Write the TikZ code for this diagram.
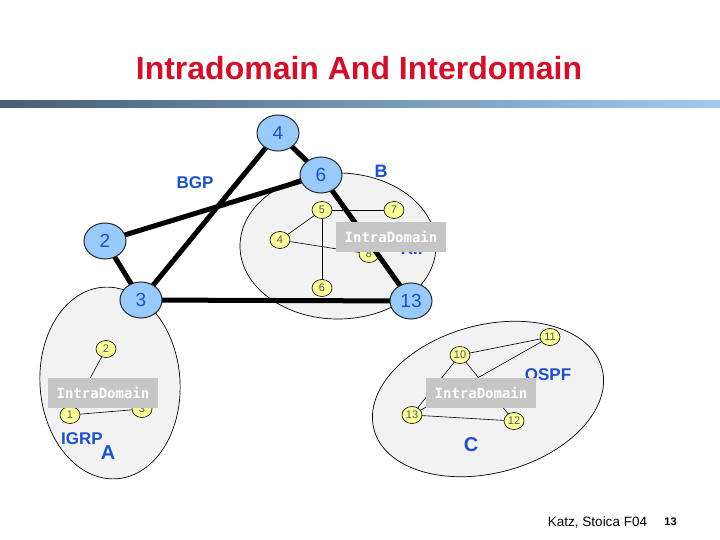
\documentclass[tikz,border=0pt]{standalone}
\usepackage{fontspec}
\setmainfont{Liberation Sans}
\newfontfamily\boxfont{DejaVu Sans Mono}
\usetikzlibrary{shapes.geometric}
\definecolor{titlered}{RGB}{208,17,43}
\definecolor{barL}{RGB}{72,94,116}
\definecolor{barR}{RGB}{160,203,245}
\definecolor{bigfill}{RGB}{153,202,252}
\definecolor{blueText}{RGB}{30,80,200}
\definecolor{smallfill}{RGB}{255,255,153}
\definecolor{smalltext}{RGB}{80,88,110}
\definecolor{domfill}{RGB}{242,242,242}
\definecolor{boxgray}{RGB}{198,198,198}
\tikzset{
  domstyle/.style={ellipse, draw=black, line width=0.7pt, fill=domfill, inner sep=0pt},
  bignode/.style={ellipse, draw=black!85, line width=1pt, fill=bigfill, minimum width=42pt, minimum height=36pt, inner sep=0pt, text=blueText, font=\fontsize{19}{19}\selectfont},
  smallnode/.style={ellipse, draw=black, line width=0.6pt, fill=smallfill, minimum width=20pt, minimum height=17pt, inner sep=0pt, text=smalltext, font=\fontsize{11}{11}\selectfont},
  thinedge/.style={draw=black, line width=0.6pt},
  thickedge/.style={draw=black, line width=5pt},
  lbl/.style={inner sep=0pt, text=blueText, font=\bfseries\fontsize{17}{17}\selectfont},
  ibox/.style={fill=boxgray, text=white, minimum width=110pt, minimum height=30pt, inner sep=0pt, font=\boxfont\bfseries\fontsize{14}{14}\selectfont}
}
\begin{document}
\begin{tikzpicture}[x=1pt,y=-1pt]
\useasboundingbox (0,0) rectangle (720,540);
\fill[white] (0,0) rectangle (720,540);
% title and bar
\node[inner sep=0pt, text=titlered, font=\bfseries\fontsize{32}{32}\selectfont] (title) at (359,68) {Intradomain And Interdomain};
\shade[left color=barL, right color=barR] (0,101) rectangle (720,107.5);
% domains
\node[domstyle, minimum width=196pt, minimum height=146pt] (domB) at (338,246) {};
\node[domstyle, minimum width=140pt, minimum height=192pt, rotate=4] (domA) at (110,383) {};
\node[domstyle, minimum width=236pt, minimum height=148pt, rotate=15] (domC) at (488,399) {};
% small node positions
\coordinate (q5) at (322,210);
\coordinate (q7) at (394,210);
\coordinate (q4) at (280,240);
\coordinate (q8) at (369,254);
\coordinate (q6) at (322,288);
\coordinate (r2) at (106,349);
\coordinate (r1) at (70,415);
\coordinate (r3) at (142,409);
\coordinate (s10) at (460,355);
\coordinate (s11) at (550,337);
\coordinate (s13) at (412,415);
\coordinate (s12) at (514,421);
% thin edges
\draw[thinedge] (q5) -- (q7);
\draw[thinedge] (q5) -- (q4);
\draw[thinedge] (q5) -- (q6);
\draw[thinedge] (q4) -- (q8);
\draw[thinedge] (r2) -- (r1);
\draw[thinedge] (r1) -- (r3);
\draw[thinedge] (s10) -- (s11);
\draw[thinedge] (s11) -- (s13);
\draw[thinedge] (s10) -- (s13);
\draw[thinedge] (s10) -- (s12);
\draw[thinedge] (s13) -- (s12);
% small nodes
\node[smallnode] (b5) at (q5) {5};
\node[smallnode] (b7) at (q7) {7};
\node[smallnode] (b4) at (q4) {4};
\node[smallnode] (b8) at (q8) {8};
\node[smallnode] (b6) at (q6) {6};
\node[smallnode] (a2) at (r2) {2};
\node[smallnode] (a1) at (r1) {1};
\node[smallnode] (a3) at (r3) {3};
\node[smallnode] (c10) at (s10) {10};
\node[smallnode] (c11) at (s11) {11};
\node[smallnode] (c13) at (s13) {13};
\node[smallnode] (c12) at (s12) {12};
% big node positions
\coordinate (p4) at (278,133);
\coordinate (p6) at (321,175);
\coordinate (p2) at (105,241);
\coordinate (p3) at (141,300);
\coordinate (p13) at (411,301);
% thick edges
\draw[thickedge] (p4) -- (p6);
\draw[thickedge] (p4) -- (p3);
\draw[thickedge] (p6) -- (p2);
\draw[thickedge] (p6) -- (p13);
\draw[thickedge] (p3) -- (p13);
\draw[thickedge] (p2) -- (p3);
% labels
\node[lbl] (bgp) at (195,183) {BGP};
\node[lbl, font=\bfseries\fontsize{18}{18}\selectfont] (labB) at (381,171) {B};
\node[lbl] (rip) at (415,249) {RIP};
\node[lbl] (igrp) at (82,439) {IGRP};
\node[lbl, font=\bfseries\fontsize{20}{20}\selectfont] (labA) at (108,453) {A};
\node[lbl] (ospf) at (548,375) {OSPF};
\node[lbl, font=\bfseries\fontsize{20}{20}\selectfont] (labC) at (471,445) {C};
% intradomain boxes
\node[ibox] (boxB) at (391,237) {IntraDomain};
\node[ibox] (boxA) at (103,393) {IntraDomain};
\node[ibox] (boxC) at (481,393) {IntraDomain};
% big nodes
\node[bignode] (n4) at (p4) {4};
\node[bignode] (n6) at (p6) {6};
\node[bignode] (n2) at (p2) {2};
\node[bignode] (n3) at (p3) {3};
\node[bignode] (n13) at (p13) {13};
% footer
\node[inner sep=0pt, font=\fontsize{13.5}{13.5}\selectfont] (foot) at (597.5,522) {Katz, Stoica F04};
\node[inner sep=0pt, font=\bfseries\fontsize{11}{11}\selectfont] (page) at (670.5,522) {13};
\end{tikzpicture}
\end{document}
